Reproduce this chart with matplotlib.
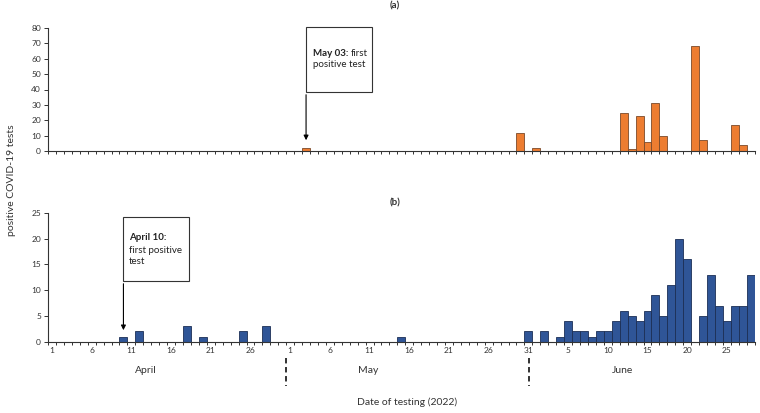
from matplotlib import pyplot as plt
from matplotlib.patches import Rectangle
import matplotlib.ticker as mticker
import numpy as np

plt.rcParams['font.family'] = ['Lato', 'DejaVu Sans']

# day index 0 = April 1, 2022 ; 89 days up to June 28
n_days = 89
months = ['April', 'May', 'June']
month_len = [30, 31, 28]

# panel (a): day index -> positive tests
a_days = [32, 59, 61, 72, 73, 74, 75, 76, 77, 81, 82, 86, 87]
a_vals = [2, 12, 2, 25, 1, 23, 6, 31, 10, 68, 7, 17, 4]

# panel (b)
b_days = [9, 11, 17, 19, 24, 27, 44, 60, 62,
          64, 65, 66, 67, 68, 69, 70, 71, 72, 73, 74, 75, 76, 77, 78, 79, 80,
          82, 83, 84, 85, 86, 87, 88]
b_vals = [1, 2, 3, 1, 2, 3, 1, 2, 2,
          1, 4, 2, 2, 1, 2, 2, 4, 6, 5, 4, 6, 9, 5, 11, 20, 16,
          5, 13, 7, 4, 7, 7, 13]

# tick labels: day of month every 5 days
tick_pos = []
tick_lab = []
start = 0
for m, L in zip(months, month_len):
    for d in range(1, L + 1):
        idx = start + d - 1
        if idx % 5 == 0:
            tick_pos.append(idx)
            tick_lab.append(str(d))
    start += L

a_series = np.zeros(n_days)
a_series[a_days] = a_vals
b_series = np.zeros(n_days)
b_series[b_days] = b_vals

fig = plt.figure(figsize=(7.6, 4.13), dpi=100)
W, H = 760, 413
left_px, right_px = 48, 754.7


def add_axes(top_px, bottom_px):
    return fig.add_axes([left_px / W, 1 - bottom_px / H,
                         (right_px - left_px) / W, (bottom_px - top_px) / H])


ax1 = add_axes(28, 151)
ax2 = add_axes(213, 341.7)

x = np.arange(n_days)
ax1.bar(x, a_series, width=1.0, color='#ED7D31', edgecolor='#7a4a2a', linewidth=0.6)
ax2.bar(x, b_series, width=1.0, color='#2F5597', edgecolor='#1c2f55', linewidth=0.6)

for ax in (ax1, ax2):
    ax.set_xlim(-0.5, n_days - 0.5)
    for s in ('top', 'right'):
        ax.spines[s].set_visible(False)
    ax.spines['left'].set_color('#333333')
    ax.spines['bottom'].set_color('#333333')
    ax.spines['left'].set_linewidth(0.8)
    ax.spines['bottom'].set_linewidth(0.8)
    ax.xaxis.set_minor_locator(mticker.FixedLocator(np.arange(-0.5, n_days, 1.0)))
    ax.tick_params(axis='x', which='minor', length=2.5, width=0.7, color='#333333')
    ax.tick_params(axis='y', length=3, width=0.7, labelsize=6, color='#333333',
                   labelcolor='#333333', pad=2)

ax1.set_ylim(0, 80)
ax1.set_yticks(range(0, 81, 10))
ax1.set_xticks([])
ax2.set_ylim(0, 25)
ax2.set_yticks(range(0, 26, 5))
ax2.set_xticks(tick_pos)
ax2.set_xticklabels(tick_lab)
ax2.tick_params(axis='x', which='major', length=0, labelsize=6, labelcolor='#333333', pad=4)

# month labels and separators
ax2.text(11.8, -0.22, 'April', transform=ax2.get_xaxis_transform(), ha='center', va='center', fontsize=7.5, color='#333333')
ax2.text(39.8, -0.22, 'May', transform=ax2.get_xaxis_transform(), ha='center', va='center', fontsize=7.5, color='#333333')
ax2.text(71.9, -0.22, 'June', transform=ax2.get_xaxis_transform(), ha='center', va='center', fontsize=7.5, color='#333333')
for xd in (29.5, 60.1):
    ax2.plot([xd, xd], [-0.127, -0.344], transform=ax2.get_xaxis_transform(),
             color='#222222', lw=1.3, ls=(0, (3, 2)), clip_on=False)

fig.text(407 / W, 1 - 402 / H, 'Date of testing (2022)', ha='center', va='center', fontsize=7.5, color='#333333')
fig.text(12 / W, 1 - 180 / H, 'positive COVID-19 tests', rotation=90, ha='center', va='center', fontsize=7.5, color='#333333')
fig.text(395 / W, 1 - 6 / H, '(a)', ha='center', va='center', fontsize=7, fontweight='bold', color='#333333')
fig.text(395 / W, 1 - 203 / H, '(b)', ha='center', va='center', fontsize=7, fontweight='bold', color='#333333')

# callout boxes
renderer = fig.canvas.get_renderer()


def callout(ax, x0, x1, y0, y1, y_arrow, lines):
    ax.add_patch(Rectangle((x0, y0), x1 - x0, y1 - y0, facecolor='white',
                           edgecolor='#333333', lw=0.8, clip_on=False, zorder=5))
    ax.annotate('', xy=(x0, y_arrow), xytext=(x0, y0),
                arrowprops=dict(arrowstyle='-|>', color='black', lw=0.8, mutation_scale=7),
                zorder=5, annotation_clip=False)
    for (bold_part, normal_part, tx, ty) in lines:
        xd = tx
        if bold_part:
            t = ax.text(tx, ty, bold_part, fontsize=7, fontweight='bold', va='center', ha='left',
                        color='#222222', zorder=6, clip_on=False)
            bb = t.get_window_extent(renderer)
            xd = ax.transData.inverted().transform((bb.x1 + 2, bb.y0))[0]
        if normal_part:
            ax.text(xd, ty, normal_part, fontsize=7, va='center', ha='left',
                    color='#222222', zorder=6, clip_on=False)


callout(ax1, 32, 40.3, 38.4, 80.6, 5.2,
        [('May 03:', 'first', 32.9, 63.7), ('', 'positive test', 32.9, 56.0)])
callout(ax2, 9, 17.2, 11.8, 24.3, 1.7,
        [('April 10:', '', 9.7, 20.2), ('', 'first positive', 9.7, 17.8), ('', 'test', 9.7, 15.5)])

fig.savefig('out.png', dpi=100)
